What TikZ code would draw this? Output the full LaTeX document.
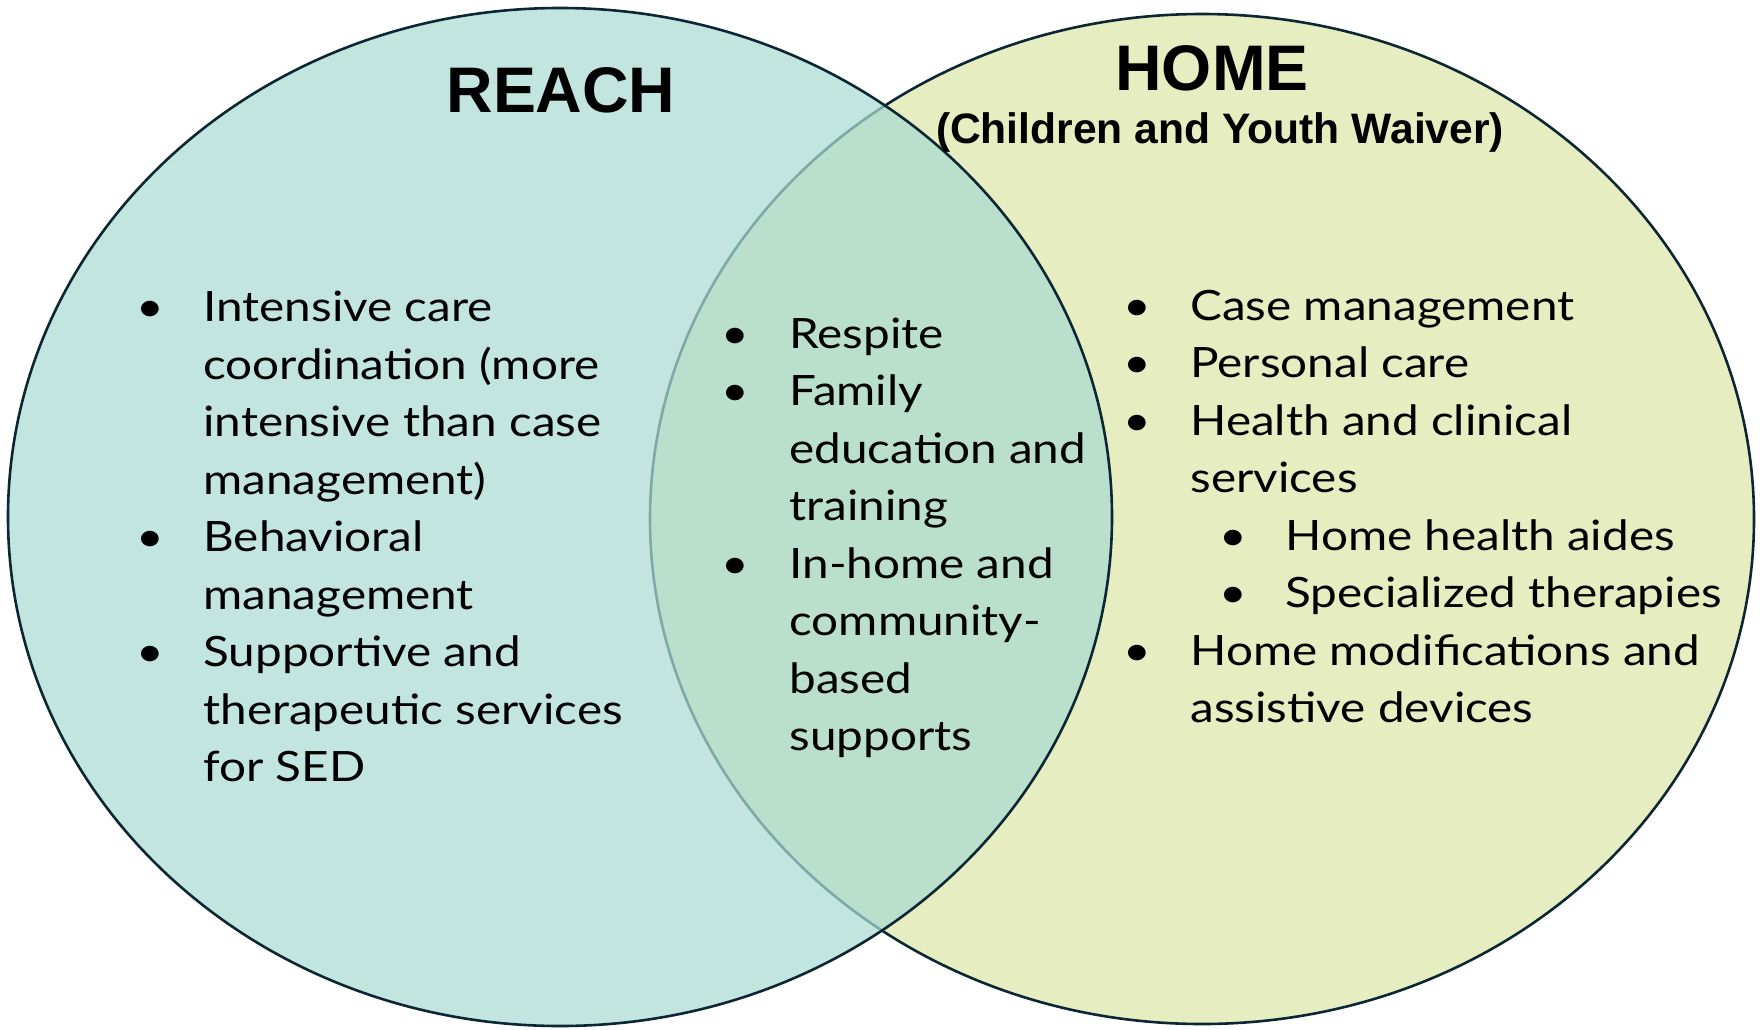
\documentclass[tikz,border=0pt]{standalone}
\usepackage{fontspec}
\setmainfont[FakeStretch=1.14]{Lato}
\newfontfamily\titlefam{Liberation Sans}
\newcommand{\bodyfont}{\fontsize{20.9}{28.35}\selectfont}
\newcommand{\bigtitle}{\titlefam\bfseries\fontsize{32.2}{38}\selectfont}
\newcommand{\subtitle}{\titlefam\bfseries\fontsize{21.3}{25}\selectfont}
\definecolor{venndark}{RGB}{12,38,52}
\definecolor{reachfill}{RGB}{170,220,211}
\definecolor{homefill}{RGB}{230,237,192}

\begin{document}
\begin{tikzpicture}[x=0.5pt, y=-0.5pt,
    line/.style = {anchor=base west, inner sep=0pt, font=\bodyfont},
    dot/.style = {anchor=base, inner sep=0pt, font=\bodyfont},
    head/.style = {anchor=base, inner sep=0pt}]
  \useasboundingbox (0,0) rectangle (1761,1029);

  % the two circles
  \draw[line width=1.3pt, venndark, fill=homefill] (1202,519) ellipse [x radius=552, y radius=505];
  \draw[line width=1.3pt, venndark, fill=reachfill, fill opacity=0.72] (560,517) ellipse [x radius=552, y radius=509];

  % titles
  \node[head, font=\bigtitle] (reach) at (561,112) {REACH};
  \node[head, font=\bigtitle] (home) at (1212,90) {HOME};
  \node[head, font=\subtitle] (waiver) at (1220,143.5) {(Children and Youth Waiver)};

  % REACH only
  \foreach \i/\t in {0/Intensive care, 1/coordination (more, 2/intensive than case,
      3/management), 4/Behavioral, 5/management, 6/Supportive and,
      7/therapeutic services, 8/for SED}
    \node[line] (reach\i) at (203,321.7+\i*57.5) {\t};
  \foreach \i in {0,4,6}
    \node[dot] (reachdot\i) at (150,321.7+\i*57.5) {•};

  % both
  \foreach \i/\t in {0/Respite, 1/Family, 2/education and, 3/training,
      4/In-home and, 5/community-, 6/based, 7/supports}
    \node[line] (both\i) at (789,348.3+\i*57.5) {\t};
  \foreach \i in {0,1,4}
    \node[dot] (bothdot\i) at (735,348.3+\i*57.5) {•};

  % HOME only
  \foreach \i/\t in {0/Case management, 1/Personal care, 2/Health and clinical,
      3/services, 6/Home modifications and, 7/assistive devices}
    \node[line] (home\i) at (1190,320+\i*57.5) {\t};
  \foreach \i/\t in {4/Home health aides, 5/Specialized therapies}
    \node[line] (home\i) at (1285,320+\i*57.5) {\t};
  \foreach \i in {0,1,2,6}
    \node[dot] (homedot\i) at (1137,320+\i*57.5) {•};
  \foreach \i in {4,5}
    \node[dot] (homedot\i) at (1233,320+\i*57.5) {•};
\end{tikzpicture}
\end{document}
